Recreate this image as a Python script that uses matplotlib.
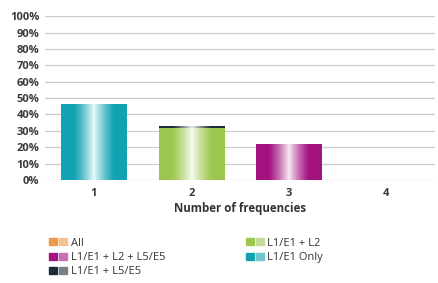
import matplotlib.pyplot as plt
import numpy as np
from matplotlib.colors import LinearSegmentedColormap, to_rgb
from matplotlib.patches import Patch
from matplotlib.legend_handler import HandlerTuple

# Categories and stacked series (percent of receivers)
categories = ["1", "2", "3", "4"]
series_names = ["L1/E1 Only", "L1/E1 + L2", "L1/E1 + L2 + L5/E5", "L1/E1 + L5/E5", "All"]
l1_only = [46.5, 0, 0, 0]
l1_l2 = [0, 31.7, 0, 0]
l1_l2_l5 = [0, 0, 22.0, 0]
l1_l5 = [0, 1.0, 0, 0]
all_freq = [0, 0, 0, 0]
colors = ["#12A2B2", "#9CC74F", "#A3127F", "#1C2B36", "#EE9A4A"]

plt.rcParams['font.family'] = ['Open Sans', 'DejaVu Sans']

fig = plt.figure(figsize=(4.38, 2.83), dpi=100)
ax = fig.add_axes([0.103, 0.364, 0.890, 0.579])

x = np.arange(len(categories))
width = 0.67
bottom = np.zeros(len(categories))
prof = np.linspace(0, 1, 64)
shade = np.clip(1 - np.abs(prof - 0.5) / 0.32, 0, 1) ** 1.3 * 0.92

for vals, col in zip([l1_only, l1_l2, l1_l2_l5, l1_l5, all_freq], colors):
    bars = ax.bar(x, vals, width, bottom=bottom, color=col, linewidth=0, zorder=2)
    base = np.array(to_rgb(col))
    grad = base[None, :] * (1 - shade[:, None]) + np.ones(3)[None, :] * shade[:, None]
    cmap = LinearSegmentedColormap.from_list("g", grad)
    for b in bars:
        if b.get_height() <= 0:
            continue
        x0, y0 = b.get_x(), b.get_y()
        im = ax.imshow(prof[None, :], cmap=cmap, aspect='auto', zorder=3,
                       extent=[x0, x0 + b.get_width(), y0, y0 + b.get_height()])
        im.set_clip_path(b)
    bottom += np.array(vals)

ax.set_xlim(-0.5, len(categories) - 0.5)
ax.set_ylim(0, 100)
ax.set_yticks(np.arange(0, 101, 10))
ax.set_yticklabels([f"{v}%" for v in range(0, 101, 10)])
ax.set_xticks(x)
ax.set_xticklabels(categories)
ax.yaxis.grid(True, color='#cccccc', linewidth=0.9, zorder=0)
ax.set_axisbelow(True)
for s in ax.spines.values():
    s.set_visible(False)
ax.tick_params(axis='both', length=0, labelsize=8, colors='#3a3a3a')
ax.tick_params(axis='y', pad=4)
ax.tick_params(axis='x', pad=6)
for t in ax.get_xticklabels() + ax.get_yticklabels():
    t.set_fontweight('bold')
ax.set_xlabel("Number of frequencies", fontsize=8.3, fontweight='bold', color='#333333', labelpad=2)

# legend: two little squares per entry, row-major order
def h(c):
    light = tuple(0.6 * np.array(to_rgb(c)) + 0.4)
    return (Patch(color=c), Patch(color=light))

order = [4, 2, 3, 1, 0]
handles = [h(colors[i]) for i in order]
labels = [series_names[i] for i in order]
fig.legend(handles, labels, ncol=2, loc='upper left', bbox_to_anchor=(0.09, 0.195),
           frameon=False, fontsize=8, handlelength=1.6, handleheight=0.6,
           handletextpad=0.3, columnspacing=7.3, labelspacing=0.3,
           labelcolor='#333333',
           handler_map={tuple: HandlerTuple(ndivide=2, pad=0.2)})

fig.savefig("out.png", dpi=100, facecolor='white')
